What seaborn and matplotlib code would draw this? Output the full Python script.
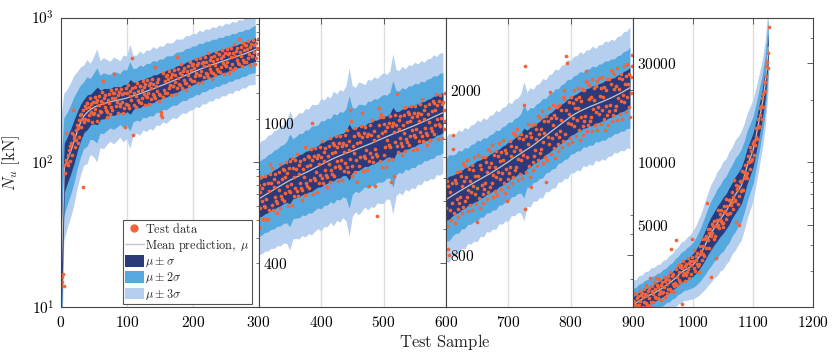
import numpy as np
import matplotlib
matplotlib.use('Agg')
import matplotlib.pyplot as plt
import seaborn as sns
from matplotlib.ticker import FixedLocator, FixedFormatter, NullFormatter, LogLocator
from matplotlib.lines import Line2D
from matplotlib.patches import Patch

# ---- datos ----
# media de la predicción cada 5 muestras (por panel)
mean_p1 = [16, 92, 105, 120, 140, 165, 190, 210, 222, 232,
           240, 245, 250, 254, 258, 262, 265, 268, 271, 274,
           278, 283, 288, 293, 298, 304, 310, 316, 322, 329,
           336, 343, 350, 358, 366, 374, 383, 392, 401, 410,
           420, 429, 438, 447, 456, 465, 474, 482, 490, 499,
           508, 517, 526, 535, 545, 555, 565, 577, 590, 603]
mean_p2 = [608, 616, 624, 632, 640, 648, 656, 664, 672, 680,
           688, 695, 702, 709, 716, 723, 730, 738, 746, 754,
           762, 770, 778, 786, 794, 801, 808, 815, 822, 828,
           834, 841, 848, 855, 862, 869, 876, 884, 892, 900,
           908, 916, 924, 932, 940, 947, 954, 962, 970, 978,
           986, 995, 1004, 1013, 1022, 1032, 1042, 1052, 1062, 1072]
mean_p3 = [1090, 1102, 1114, 1126, 1138, 1150, 1162, 1174, 1186, 1198,
           1210, 1222, 1234, 1246, 1258, 1272, 1286, 1300, 1315, 1330,
           1345, 1362, 1378, 1394, 1410, 1426, 1442, 1458, 1475, 1494,
           1514, 1534, 1555, 1576, 1597, 1618, 1640, 1662, 1684, 1706,
           1728, 1748, 1766, 1782, 1797, 1811, 1825, 1838, 1851, 1864,
           1877, 1891, 1905, 1920, 1936, 1953, 1971, 1990, 2010, 2030]
mean_p4 = [2050, 2090, 2140, 2180, 2220, 2260, 2300, 2340, 2380, 2430,
           2480, 2540, 2600, 2670, 2750, 2840, 2930, 3000, 3060, 3120,
           3200, 3330, 3500, 3720, 3980, 4280, 4550, 4800, 5050, 5300,
           5550, 5800, 6150, 6550, 6950, 7300, 7700, 8500, 9600, 10500,
           11500, 13500, 16000, 19000, 24000, 36000]

# desviación (log10) cada 5 muestras
sd_p1 = [0.36, 0.17, 0.16, 0.155, 0.15, 0.135, 0.125, 0.115, 0.12, 0.105,
         0.115, 0.13, 0.1, 0.105, 0.098, 0.092, 0.1, 0.095, 0.088, 0.1,
         0.095, 0.12, 0.092, 0.09, 0.097, 0.088, 0.094, 0.09, 0.096, 0.088,
         0.092, 0.087, 0.093, 0.089, 0.086, 0.092, 0.088, 0.085, 0.09, 0.086,
         0.088, 0.084, 0.089, 0.083, 0.087, 0.082, 0.086, 0.081, 0.085, 0.08,
         0.084, 0.079, 0.083, 0.078, 0.082, 0.078, 0.081, 0.077, 0.08, 0.082]
sd_p2 = [0.052, 0.054, 0.053, 0.055, 0.054, 0.056, 0.055, 0.057, 0.056, 0.058,
         0.066, 0.057, 0.058, 0.06, 0.058, 0.061, 0.059, 0.062, 0.06, 0.059,
         0.063, 0.06, 0.062, 0.059, 0.064, 0.06, 0.063, 0.06, 0.064, 0.08,
         0.062, 0.059, 0.063, 0.061, 0.058, 0.062, 0.06, 0.062, 0.059, 0.061,
         0.062, 0.059, 0.061, 0.076, 0.06, 0.058, 0.061, 0.057, 0.06, 0.058,
         0.06, 0.057, 0.059, 0.056, 0.058, 0.057, 0.059, 0.056, 0.058, 0.057]
sd_p3 = [0.05, 0.052, 0.049, 0.048, 0.05, 0.047, 0.049, 0.046, 0.048, 0.047,
         0.049, 0.046, 0.048, 0.045, 0.047, 0.046, 0.048, 0.045, 0.047, 0.046,
         0.048, 0.045, 0.047, 0.046, 0.048, 0.056, 0.046, 0.048, 0.045, 0.047,
         0.046, 0.048, 0.045, 0.047, 0.046, 0.048, 0.045, 0.047, 0.046, 0.048,
         0.045, 0.047, 0.046, 0.048, 0.045, 0.047, 0.046, 0.048, 0.045, 0.047,
         0.046, 0.048, 0.046, 0.047, 0.045, 0.047, 0.046, 0.048, 0.047, 0.049]
sd_p4 = [0.04, 0.038, 0.041, 0.039, 0.042, 0.04, 0.043, 0.041, 0.043, 0.041,
         0.044, 0.042, 0.045, 0.044, 0.047, 0.046, 0.049, 0.048, 0.051, 0.052,
         0.055, 0.058, 0.062, 0.066, 0.071, 0.075, 0.079, 0.08, 0.084, 0.083,
         0.087, 0.085, 0.088, 0.086, 0.089, 0.087, 0.088, 0.086, 0.085, 0.083,
         0.082, 0.078, 0.075, 0.072, 0.07, 0.068]

# datos de ensayo, una muestra por valor
test_p1 = [14, 16, 15, 17, 14, 95, 84, 104, 160, 99,
           112, 96, 121, 130, 102, 136, 113, 160, 230, 146,
           155, 128, 166, 142, 180, 136, 172, 196, 150, 212,
           176, 214, 198, 67, 230, 190, 246, 200, 236, 258,
           258, 196, 242, 212, 276, 223, 251, 189, 262, 216,
           219, 284, 233, 262, 194, 270, 211, 250, 289, 226,
           267, 222, 307, 365, 257, 277, 239, 290, 229, 204,
           224, 270, 294, 255, 216, 315, 239, 278, 231, 302,
           299, 407, 280, 246, 320, 259, 291, 219, 304, 251,
           246, 319, 262, 295, 218, 303, 238, 176, 325, 254,
           299, 248, 344, 237, 288, 310, 268, 324, 523, 154,
           250, 303, 329, 285, 242, 352, 268, 311, 259, 338,
           339, 258, 318, 279, 364, 294, 330, 248, 345, 285,
           284, 370, 303, 341, 253, 351, 275, 325, 376, 294,
           348, 289, 458, 276, 335, 361, 312, 377, 298, 266,
           293, 222, 212, 205, 283, 413, 314, 365, 303, 396,
           398, 302, 373, 327, 426, 344, 387, 291, 405, 334,
           335, 435, 357, 402, 298, 536, 324, 383, 443, 346,
           413, 343, 476, 328, 398, 429, 371, 449, 355, 316,
           351, 424, 461, 400, 339, 494, 375, 437, 363, 473,
           479, 364, 449, 394, 514, 415, 467, 351, 488, 402,
           401, 522, 428, 482, 357, 495, 388, 459, 531, 415,
           492, 408, 566, 390, 473, 510, 441, 534, 422, 376,
           413, 499, 542, 470, 398, 581, 442, 514, 427, 557,
           558, 423, 523, 458, 598, 483, 543, 408, 568, 468,
           464, 604, 495, 557, 413, 573, 449, 531, 614, 480,
           566, 434, 651, 449, 545, 587, 507, 614, 486, 707,
           476, 576, 626, 543, 460, 670, 510, 593, 493, 643,
           644, 489, 604, 529, 690, 558, 627, 472, 656, 541,
           540, 702, 576, 648, 480, 666, 522, 618, 714, 558]
test_p2 = [667, 507, 636, 575, 704, 600, 655, 535, 673, 581,
           578, 710, 609, 535, 534, 678, 565, 641, 716, 765,
           676, 586, 747, 567, 657, 696, 618, 715, 599, 554,
           594, 680, 726, 647, 574, 766, 620, 693, 607, 739,
           737, 602, 703, 635, 777, 662, 723, 581, 744, 642,
           636, 781, 670, 798, 587, 746, 622, 705, 788, 656,
           740, 642, 818, 620, 719, 761, 677, 783, 656, 606,
           647, 741, 791, 705, 626, 856, 676, 755, 661, 805,
           800, 653, 763, 690, 844, 1000, 785, 631, 807, 697,
           690, 848, 728, 795, 638, 810, 675, 765, 855, 713,
           804, 697, 889, 674, 781, 827, 735, 850, 712, 659,
           704, 805, 860, 766, 680, 907, 735, 821, 719, 876,
           870, 710, 830, 750, 918, 782, 854, 686, 878, 758,
           747, 918, 788, 861, 690, 877, 731, 828, 926, 771,
           866, 751, 957, 726, 842, 891, 792, 1089, 1015, 710,
           754, 863, 922, 821, 729, 972, 788, 880, 682, 939,
           929, 758, 886, 801, 980, 1070, 912, 733, 937, 809,
           797, 979, 840, 918, 736, 935, 779, 664, 987, 823,
           924, 801, 1021, 774, 898, 950, 845, 664, 818, 545,
           806, 923, 986, 1105, 780, 1039, 1065, 941, 750, 1040,
           994, 812, 948, 857, 750, 894, 976, 784, 1003, 866,
           854, 1049, 682, 984, 789, 1002, 710, 947, 1058, 882,
           991, 859, 1209, 831, 963, 1020, 906, 1048, 878, 812,
           863, 988, 1055, 940, 834, 1112, 901, 1007, 882, 1074,
           1063, 868, 1014, 917, 1121, 956, 1043, 839, 1073, 926,
           913, 1121, 962, 1052, 843, 1071, 893, 1012, 1131, 942,
           1061, 919, 1172, 889, 1030, 1091, 970, 1121, 939, 869,
           927, 1061, 1133, 1009, 896, 897, 968, 1082, 948, 1154,
           1145, 935, 1092, 987, 1208, 1029, 1124, 903, 1155, 998,
           983, 1207, 1036, 1132, 908, 1153, 961, 1089, 1218, 1015]
test_p3 = [1041, 1206, 943, 1173, 826, 800, 1030, 1140, 975, 1195,
           1070, 1560, 1442, 1013, 1216, 957, 1194, 1092, 1272, 1036,
           989, 1070, 1277, 1104, 1242, 1173, 1012, 1334, 1047, 1208,
           1315, 1080, 1233, 1104, 1362, 1021, 1150, 1291, 1209, 1057,
           1138, 1318, 1030, 1282, 1174, 1378, 1126, 1246, 1066, 964,
           1161, 1393, 1246, 1100, 1320, 1039, 1295, 1185, 1381, 1124,
           1072, 1159, 1383, 1196, 1346, 1271, 1096, 1445, 1134, 1308,
           1425, 1170, 1336, 1196, 1476, 1107, 1247, 1399, 1310, 1145,
           1235, 1430, 1118, 1391, 1274, 1495, 1222, 1352, 1157, 1417,
           1264, 1516, 1357, 1197, 1436, 1131, 1410, 1290, 1083, 1224,
           1170, 1266, 1511, 1307, 1470, 1388, 1198, 1579, 1239, 1429,
           1561, 1282, 1464, 1310, 1617, 1213, 1366, 1533, 1436, 1255,
           1355, 1569, 1226, 1526, 1397, 1840, 2290, 1034, 1269, 1554,
           1385, 1662, 1487, 1312, 1575, 1239, 1545, 1170, 1648, 1341,
           1285, 1389, 1658, 1434, 1614, 1524, 1315, 1733, 1360, 1569,
           1718, 1411, 1611, 1442, 1779, 1335, 1503, 1687, 1580, 1381,
           1200, 1734, 1355, 1686, 1544, 1812, 1481, 1980, 1403, 1718,
           1537, 1845, 1650, 1456, 1747, 1375, 1715, 1569, 1828, 1489,
           1429, 1546, 1845, 1596, 1795, 1695, 1463, 1928, 1512, 2010,
           1911, 1569, 1791, 2420, 2330, 1484, 1672, 1877, 1757, 1535,
           1661, 1923, 1503, 1870, 1713, 2010, 1643, 1818, 1556, 1905,
           1693, 2031, 1818, 1604, 1925, 1515, 1889, 1729, 2014, 1639,
           1557, 1684, 2010, 1739, 2230, 2110, 1594, 2101, 1648, 1902,
           2059, 1691, 1930, 1728, 2132, 1599, 1801, 2022, 1893, 1654,
           1771, 2050, 1603, 2110, 1827, 2144, 1752, 1939, 1659, 2032,
           1796, 2156, 1929, 1702, 2042, 1607, 2004, 1834, 2137, 1740,
           1651, 1786, 2131, 1843, 2074, 2240, 1690, 2227, 1747, 2016,
           2187, 1797, 2051, 1836, 2265, 1699, 1914, 2148, 2012, 1758,
           1891, 2189, 1711, 2129, 1950, 2289, 1871, 2070, 1771, 2169,
           1929, 2314, 2071, 1827, 2192, 1726, 2152, 1969, 2294, 2440]
test_p4 = [2070, 1900, 2140, 1990, 2340, 2050, 2200, 1870, 2270, 2040,
           2040, 2400, 2140, 2290, 1920, 2340, 2010, 2230, 2430, 2110,
           2310, 2100, 2550, 2040, 2290, 2400, 2200, 2470, 2760, 2020,
           2120, 2380, 2530, 2320, 2110, 2650, 2230, 2440, 2200, 2760,
           2550, 2210, 2510, 2310, 2720, 2380, 2560, 2170, 2630, 2340,
           2370, 2790, 2490, 2670, 2230, 2720, 2340, 2590, 2820, 2440,
           2710, 2430, 2960, 2400, 3830, 2830, 2590, 2900, 2530, 2370,
           2610, 4207, 3060, 2800, 2550, 3200, 2690, 2940, 2630, 3110,
           3200, 2060, 3080, 2840, 3350, 2930, 3140, 2660, 3230, 2870,
           2940, 3440, 3060, 3280, 2750, 3340, 2880, 3190, 3470, 4250,
           3330, 3070, 3760, 3000, 3360, 3530, 3230, 3630, 3160, 2960,
           3220, 3620, 3930, 3710, 3390, 4260, 3620, 3940, 3520, 4320,
           4260, 3850, 4400, 6325, 4750, 4190, 4530, 3870, 4760, 4420,
           2790, 5050, 4570, 4900, 4250, 5180, 4420, 4920, 3430, 4900,
           5250, 4980, 5900, 4810, 5330, 5640, 5200, 5880, 5080, 4890,
           5110, 5720, 6170, 5800, 5330, 6640, 5600, 6120, 5600, 6560,
           6580, 5700, 6580, 6220, 7210, 6460, 6830, 5930, 8220, 6570,
           6530, 7750, 5130, 7400, 6300, 7720, 6900, 4950, 8150, 7260,
           8010, 7310, 9060, 7360, 8420, 9010, 8460, 9740, 8700, 8350,
           8830, 9980, 10760, 10040, 9290, 11870, 10170, 11340, 10320, 12430,
           12300, 10830, 12670, 12070, 14670, 13230, 14700, 12900, 16200, 14880,
           15040, 18260, 16860, 18690, 16190, 20330, 18400, 21420, 24420, 22080,
           24500, 26000, 29000, 30500, 28500, 33700, 45000]

panel_start = [0, 300, 600, 900]
panel_ylim = [(10, 1000), (300, 2000), (600, 3000), (2000, 50000)]
panel_yticks = [[10, 100, 1000], [400, 1000], [800, 2000], [5000, 10000, 30000]]
panel_yticklabels = [[r'$10^{1}$', r'$10^{2}$', r'$10^{3}$'],
                     [r'$400$', r'$1000$'],
                     [r'$800$', r'$2000$'],
                     [r'$5000$', r'$10000$', r'$30000$']]

means = [mean_p1, mean_p2, mean_p3, mean_p4]
sds = [sd_p1, sd_p2, sd_p3, sd_p4]
tests = [test_p1, test_p2, test_p3, test_p4]

# colores
c_dark = '#2c3a7c'
c_mid = '#56a9df'
c_light = '#b6cfee'
c_pts = '#f2643a'
c_mean = '#c4c4c4'
c_axis = '#444444'

sns.set_style('white')
plt.rcParams['mathtext.fontset'] = 'cm'
plt.rcParams['font.family'] = ['DejaVu Serif']
plt.rcParams['axes.edgecolor'] = c_axis
plt.rcParams['axes.linewidth'] = 0.8
plt.rcParams['xtick.color'] = c_axis
plt.rcParams['ytick.color'] = c_axis

fig = plt.figure(figsize=(8.32, 3.55), dpi=100)
W, H = 832.0, 355.0
boxes = [(61, 259), (258.5, 446), (446, 633), (633, 813.3)]
top_px, bot_px = 17.5, 307.0

axes = []
for i in range(4):
    l, r = boxes[i]
    ax = fig.add_axes([l / W, (H - bot_px) / H, (r - l) / W, (bot_px - top_px) / H])
    axes.append(ax)
    start = panel_start[i]
    mu = np.array(means[i], dtype=float)
    sd = np.array(sds[i])
    xs = np.arange(start, start + 5 * len(mu), 5)

    ax.set_yscale('log')
    xticks = [start, start + 100, start + 200, start + 300]
    # rejilla vertical por debajo de las bandas
    for xv in xticks[1:3]:
        ax.axvline(xv, color='#dedede', lw=1.0, zorder=0)
    for k, col in [(3, c_light), (2, c_mid), (1, c_dark)]:
        ax.fill_between(xs, mu * 10 ** (-k * sd), mu * 10 ** (k * sd),
                        color=col, lw=0, zorder=1)
    sns.lineplot(x=xs, y=mu, ax=ax, color=c_mean, lw=0.9, zorder=2)
    xt = np.arange(start, start + len(tests[i]))
    sns.scatterplot(x=xt, y=tests[i], ax=ax, color=c_pts, s=7,
                    linewidth=0, zorder=3)

    ax.set_xlim(start, start + 300)
    ax.set_ylim(*panel_ylim[i])
    ax.xaxis.set_major_locator(FixedLocator(xticks))
    if i < 3:
        xl = [f'${v}$' for v in xticks[:3]] + ['']
    else:
        xl = [f'${v}$' for v in xticks]
    ax.xaxis.set_major_formatter(FixedFormatter(xl))

    ax.yaxis.set_major_locator(FixedLocator(panel_yticks[i]))
    ax.yaxis.set_major_formatter(FixedFormatter(panel_yticklabels[i]))
    ax.yaxis.set_minor_locator(LogLocator(base=10, subs=np.arange(1, 10), numticks=50))
    ax.yaxis.set_minor_formatter(NullFormatter())

    ax.grid(False)
    ax.tick_params(axis='both', which='both', direction='in', top=True, right=True,
                   labelsize=11, color=c_axis, labelcolor='black')
    ax.tick_params(which='major', length=4, width=0.6)
    ax.tick_params(which='minor', length=2.5, width=0.5)
    ax.tick_params(axis='x', pad=6)
    ax.set_xlabel('')
    ax.set_ylabel('')
    if i == 0:
        ax.tick_params(axis='y', pad=5)
    else:
        ax.tick_params(axis='y', pad=-3)
        plt.setp(ax.get_yticklabels(), ha='left')
    ax.xaxis.set_zorder(5)
    ax.yaxis.set_zorder(5)
    for sp in ax.spines.values():
        sp.set_zorder(6)

axes[0].set_ylabel(r'$N_u\ \mathrm{[kN]}$', fontsize=12)
axes[0].yaxis.set_label_coords(-0.198, 0.5)
fig.text(445 / W, 1 - 342 / H, r'$\mathrm{Test\ Sample}$', ha='center', va='center',
         fontsize=12)

handles = [Line2D([], [], marker='o', ls='none', color=c_pts, markersize=5),
           Line2D([], [], color=c_mean, lw=1),
           Patch(facecolor=c_dark, edgecolor='none'),
           Patch(facecolor=c_mid, edgecolor='none'),
           Patch(facecolor=c_light, edgecolor='none')]
labels = [r'$\mathrm{Test\ data}$', r'$\mathrm{Mean\ prediction,}\ \mu$',
          r'$\mu\pm\sigma$', r'$\mu\pm2\sigma$', r'$\mu\pm3\sigma$']
leg = axes[0].legend(handles, labels, loc='lower right', bbox_to_anchor=(0.965, 0.012),
                     borderaxespad=0, fontsize=8.8, frameon=True, fancybox=False,
                     framealpha=1, edgecolor='#555555', handlelength=1.5,
                     handleheight=1.1, handletextpad=0.15, labelspacing=0.1,
                     borderpad=0.15)
leg.get_frame().set_linewidth(0.8)
leg.set_zorder(10)

fig.savefig('out.png', dpi=100)
